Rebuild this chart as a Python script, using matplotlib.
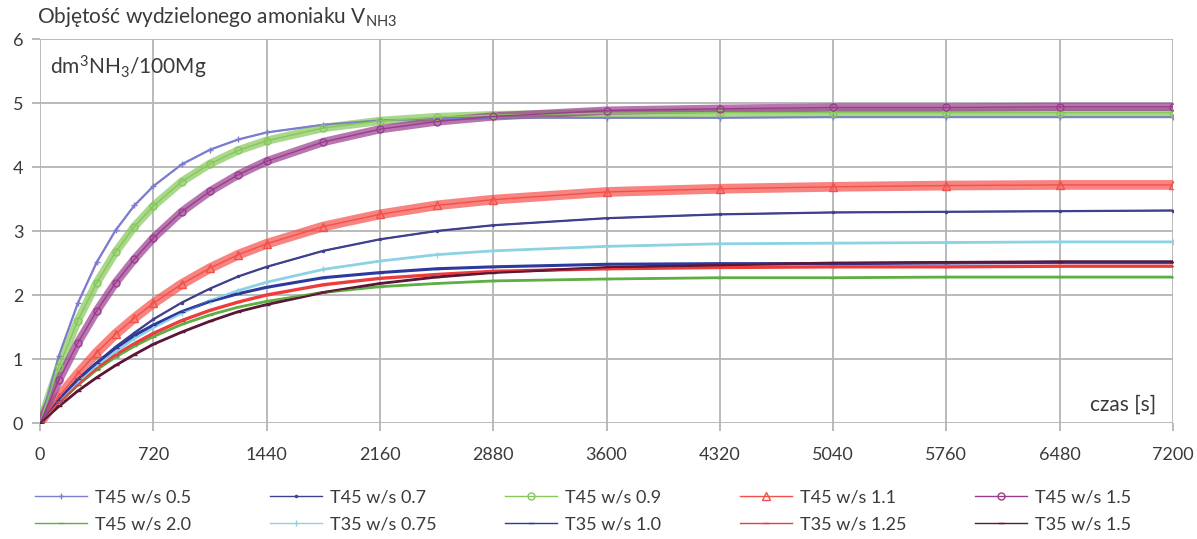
#!/usr/bin/env python3
"""Objetosc wydzielonego amoniaku - recreated chart"""
import matplotlib
matplotlib.use("Agg")
import matplotlib.pyplot as plt

plt.rcParams['font.family'] = ['Lato', 'DejaVu Sans']
plt.rcParams['mathtext.default'] = 'regular'

# time points [s]
czas = [0, 120, 240, 360, 480, 600, 720, 900, 1080, 1260, 1440, 1800, 2160,
        2520, 2880, 3600, 4320, 5040, 5760, 6480, 7200]

# values [dm3 NH3 / 100Mg]
t45_05 = [0, 1.05, 1.87, 2.51, 3.01, 3.40, 3.70, 4.04, 4.27, 4.43, 4.54, 4.66, 4.73,
          4.75, 4.77, 4.77, 4.77, 4.78, 4.78, 4.78, 4.78]
t45_07 = [0, 0.35, 0.66, 0.94, 1.19, 1.41, 1.62, 1.88, 2.10, 2.29, 2.44, 2.69, 2.87,
          3.00, 3.09, 3.20, 3.26, 3.29, 3.30, 3.31, 3.32]
t45_09 = [0, 0.88, 1.60, 2.19, 2.67, 3.07, 3.39, 3.77, 4.05, 4.26, 4.41, 4.61, 4.72,
          4.78, 4.81, 4.84, 4.85, 4.85, 4.85, 4.85, 4.85]
t45_11 = [0, 0.41, 0.77, 1.10, 1.39, 1.64, 1.87, 2.17, 2.42, 2.63, 2.80, 3.07, 3.26,
          3.40, 3.49, 3.61, 3.66, 3.69, 3.71, 3.72, 3.72]
t45_15 = [0, 0.67, 1.25, 1.75, 2.19, 2.56, 2.89, 3.30, 3.62, 3.88, 4.09, 4.39, 4.59,
          4.71, 4.79, 4.88, 4.91, 4.93, 4.93, 4.94, 4.94]
t45_20 = [0, 0.32, 0.59, 0.83, 1.03, 1.20, 1.35, 1.54, 1.69, 1.81, 1.90, 2.04, 2.13,
          2.18, 2.22, 2.25, 2.27, 2.27, 2.28, 2.28, 2.28]
t35_075 = [0, 0.33, 0.63, 0.89, 1.11, 1.32, 1.49, 1.72, 1.91, 2.07, 2.20, 2.40, 2.53,
           2.63, 2.69, 2.76, 2.80, 2.81, 2.82, 2.83, 2.83]
t35_10 = [0, 0.36, 0.68, 0.94, 1.17, 1.37, 1.53, 1.74, 1.90, 2.02, 2.12, 2.27, 2.35,
          2.41, 2.44, 2.48, 2.49, 2.49, 2.50, 2.51, 2.51]
t35_125 = [0, 0.32, 0.60, 0.85, 1.06, 1.24, 1.40, 1.60, 1.76, 1.89, 2.00, 2.16, 2.26,
           2.32, 2.37, 2.41, 2.43, 2.44, 2.44, 2.45, 2.45]
t35_15 = [0, 0.26, 0.50, 0.71, 0.90, 1.07, 1.23, 1.42, 1.59, 1.74, 1.85, 2.04, 2.18,
          2.28, 2.35, 2.43, 2.47, 2.50, 2.51, 2.52, 2.52]

x_ticks = [0, 720, 1440, 2160, 2880, 3600, 4320, 5040, 5760, 6480, 7200]
y_ticks = [0, 1, 2, 3, 4, 5, 6]

# (label, data, color, marker, marker size, band width)
series = [
    ('T45 w/s 0.5', t45_05, '#7d7dcf', '+', 4, 1.6),
    ('T45 w/s 0.7', t45_07, '#40408e', '.', 3, 1.6),
    ('T45 w/s 0.9', t45_09, '#86c85a', 'o', 5, 6),
    ('T45 w/s 1.1', t45_11, '#f4504a', '^', 6, 7),
    ('T45 w/s 1.5', t45_15, '#9a3c8e', 'o', 5, 6),
    ('T45 w/s 2.0', t45_20, '#5fae43', '_', 4, 2.0),
    ('T35 w/s 0.75', t35_075, '#8cd2e4', '|', 4, 2.0),
    ('T35 w/s 1.0', t35_10, '#2c3a9e', '_', 4, 2.2),
    ('T35 w/s 1.25', t35_125, '#ec3c3c', '_', 4, 2.4),
    ('T35 w/s 1.5', t35_15, '#5c1636', '_', 4, 2.0),
]

fig = plt.figure(figsize=(11.97, 5.39), dpi=100)
ax = fig.add_axes([40 / 1197, 1 - 423 / 539, 1133 / 1197, 384 / 539])

handles = []
for label, vals, color, mk, ms, lw in series:
    ax.plot(czas, vals, color=color, lw=lw, alpha=0.7 if lw > 3 else 1,
            solid_capstyle='round', zorder=3)
    h, = ax.plot(czas, vals, color=color, lw=1, marker=mk, ms=ms,
                 mfc='none' if mk in ('o', '^') else color, mec=color,
                 mew=1, label=label, zorder=4)
    handles.append(h)

ax.set_xlim(0, 7200)
ax.set_ylim(0, 6)
ax.set_xticks(x_ticks)
ax.set_yticks(y_ticks)
ax.grid(True, color='#b4b4b4', lw=1.3)
ax.set_axisbelow(True)
for s in ax.spines.values():
    s.set_visible(False)
ax.tick_params(axis='both', colors='#b4b4b4', width=1.3, length=6,
               labelcolor='#3a3a3a', labelsize=13)
ax.tick_params(axis='x', pad=11)
ax.tick_params(axis='y', pad=6)

fig.text(37 / 1197, 1 - 17 / 539, r'Objętość wydzielonego amoniaku V$_{NH3}$',
         fontsize=15, color='#3a3a3a', va='center', ha='left')
ax.text(0.009, 0.925, r'dm$^{3}$NH$_{3}$/100Mg', transform=ax.transAxes,
        fontsize=15, color='#3a3a3a', va='center', ha='left')
ax.text(0.985, 0.047, 'czas [s]', transform=ax.transAxes,
        fontsize=15, color='#3a3a3a', va='center', ha='right')

# legend: 5 columns, 2 rows, fixed column positions
col_x = [26, 261, 496, 731, 966]
for i, x0 in enumerate(col_x):
    fig.legend([handles[i], handles[i + 5]],
               [series[i][0], series[i + 5][0]],
               loc='upper left', bbox_to_anchor=(x0 / 1197, 1 - 480 / 539),
               frameon=False, fontsize=13, handlelength=2.9,
               handletextpad=0.4, labelspacing=0.65, borderpad=0,
               labelcolor='#3a3a3a')

plt.savefig('out.png', dpi=100)
